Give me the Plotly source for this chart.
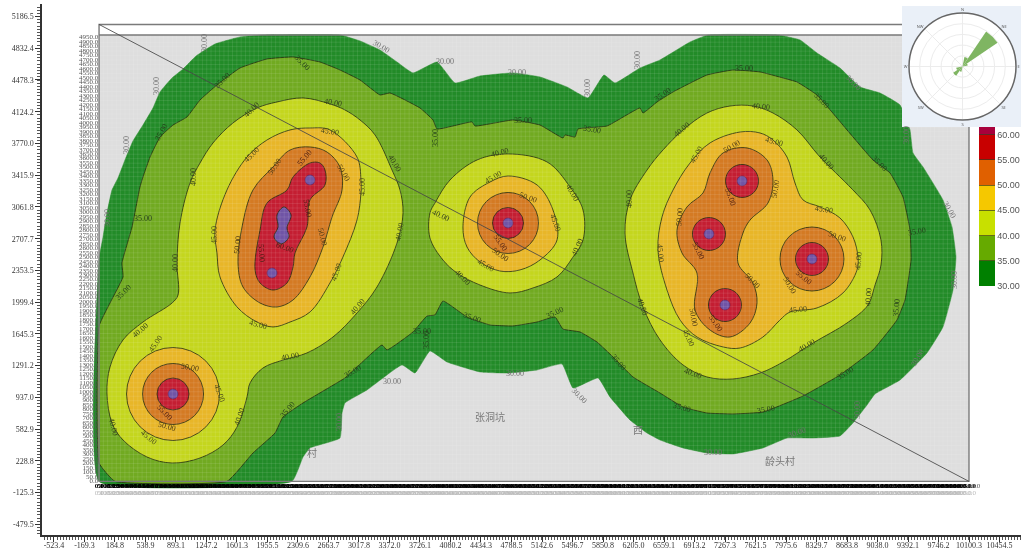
import plotly.graph_objects as go

X_TICKS = [-523.4,-169.3,184.8,538.9,893.1,1247.2,1601.3,1955.5,2309.6,2663.7,3017.8,3372.0,3726.1,4080.2,4434.3,4788.5,
           5142.6,5496.7,5850.8,6205.0,6559.1,6913.2,7267.3,7621.5,7975.6,8329.7,8683.8,9038.0,9392.1,9746.2,10100.3,10454.5]
Y_TICKS = [5186.5,4832.4,4478.3,4124.2,3770.0,3415.9,3061.8,2707.7,2353.5,1999.4,1645.3,1291.2,937.0,582.9,228.8,-125.3,-479.5]
MAP_W, MAP_H, BOX_TOP = 10100, 4980, 5098

L30 = [(1903,4980),(1636,4958),(1346,4880),(1126,4746),(975,4601),(847,4501),(708,4345),(626,4166),(510,3976),(394,3798),(301,3586),(220,3385),(150,3251),(92,2995),(46,2727),(11,2548),(0,2470),(0,0),(2240,0),(2368,272),(2449,373),(2797,484),(2821,763),(2855,875),(3111,1020),(3517,1299),(3668,1209),(3842,1455),(4040,1332),(4423,1221),(4748,1209),(5085,1243),(5375,1310),(5503,1042),(5793,1154),(5932,942),(6164,685),(6362,540),(6513,462),(6780,373),(7058,317),(7360,306),(7708,373),(7987,484),(8289,484),(8602,507),(8753,652),(8916,852),(9009,975),(9299,1131),(9612,1433),(9798,1723),(9914,2135),(9949,2504),(9903,2838),(9798,3140),(9566,3508),(9450,3664),(9415,3921),(9299,4200),(9067,4333),(8835,4400),(8602,4612),(8335,4780),(8138,4925),(7883,4980),(7070,4980),(6861,4902),(6513,4702),(6280,4612),(5990,4445),(5862,4534),(5677,4278),(5433,4400),(5119,4512),(4806,4557),(4423,4523),(4133,4445),(3924,4679),(3645,4557),(3459,4679),(3262,4813),(3030,4914),(2797,4980)]
L35 = [(2252,4735),(1950,4713),(1636,4612),(1369,4423),(1172,4255),(1021,4066),(859,3976),(708,3842),(592,3619),(510,3396),(475,3285),(383,2838),(266,2437),(278,2281),(127,1990),(0,1734),(0,205),(185,0),(1485,0),(1787,317),(2043,540),(2136,719),(2368,875),(2681,1053),(2855,1154),(2995,1276),(3285,1522),(3343,1466),(3645,1667),(3807,1845),(3900,1857),(3993,2013),(4272,1834),(4539,1745),(4806,1734),(5085,1778),(5294,1834),(5386,1700),(5584,1667),(5781,1555),(5967,1388),(6199,1165),(6513,986),(6780,830),(7058,763),(7360,752),(7708,774),(8173,953),(8602,1187),(8985,1466),(9264,1801),(9357,2024),(9427,2470),(9415,2805),(9334,3173),(9183,3441),(8985,3586),(8684,3921),(8335,4311),(8103,4456),(7941,4501),(7674,4568),(7360,4590),(7058,4534),(6664,4345),(6478,4233),(6315,4110),(6280,4166),(5897,3965),(5561,3932),(5526,3842),(5410,3865),(5386,3831),(5119,3976),(4806,4032),(4365,3965),(4330,4010),(3924,3932),(3877,4032),(3726,4166),(3378,4333),(3262,4311),(3030,4478),(2797,4590),(2565,4679)]
L40_LEFT = [(2368,4278),(2066,4233),(1834,4166),(1555,3999),(1323,3776),(1172,3552),(1056,3329),(940,2883),(905,2437),(917,2080),(847,1990),(510,1778),(278,1578),(127,1276),(92,986),(150,652),(278,462),(557,272),(847,205),(1172,261),(1439,406),(1602,607),(1718,942),(1753,1098),(1903,1265),(2136,1354),(2414,1433),(2716,1611),(2995,1879),(3227,2169),(3459,2660),(3529,2995),(3494,3251),(3401,3474),(3204,3865),(3030,4032),(2855,4144),(2681,4211)]
L40_MID = [(4748,3653),(5201,3564),(5468,3285),(5619,3028),(5619,2693),(5503,2504),(5317,2281),(5038,2158),(4771,2102),(4423,2191),(4156,2325),(3993,2470),(3842,2716),(3842,2995),(3900,3106),(4075,3363),(4388,3586)]
L40_RIGHT = [(7325,4188),(7592,4188),(7824,4110),(8103,3921),(8370,3619),(8753,3251),(8951,3028),(9078,2693),(9078,2414),(9009,2191),(8927,1968),(8684,1767),(8289,1544),(7941,1332),(7674,1209),(7360,1143),(7058,1165),(6780,1299),(6513,1578),(6315,1946),(6199,2325),(6106,2771),(6164,3140),(6362,3474),(6547,3697),(6780,3921),(7058,4110)]
L45_LEFT = [(2449,3943),(2217,3921),(1950,3809),(1718,3619),(1485,3251),(1346,2805),(1369,2548),(1404,2281),(1602,1946),(1834,1778),(2020,1723),(2217,1778),(2449,1890),(2681,2214),(2832,2504),(2995,2916),(3041,3218),(3041,3363),(2995,3619),(2681,3921)]
L45_MID = [(4748,3407),(5085,3307),(5270,3028),(5317,2693),(5119,2470),(4887,2359),(4655,2347),(4423,2448),(4272,2615),(4225,2838),(4307,3173),(4539,3340)]
L45_RIGHT = [(7441,3898),(7674,3887),(7824,3809),(7987,3619),(8080,3329),(8173,3140),(8370,3062),(8602,2939),(8753,2727),(8811,2504),(8800,2359),(8637,2102),(8335,1935),(8022,1890),(7906,1801),(7708,1611),(7441,1488),(7244,1500),(6942,1611),(6745,1801),(6594,2135),(6489,2582),(6536,2950),(6664,3251),(6861,3552),(7093,3776)]
L50_LEFT = [(2449,3731),(2217,3697),(2020,3508),(1787,3251),(1660,2838),(1613,2437),(1671,2169),(1869,1990),(2066,1946),(2252,2024),(2449,2281),(2600,2615),(2705,2950),(2821,3251),(2797,3508),(2646,3675)]
L50_RIGHT = [(7523,3720),(7755,3586),(7824,3363),(7766,3106),(7558,2916),(7476,2771),(7418,2437),(7592,2214),(7639,1990),(7558,1767),(7325,1611),(7093,1689),(6919,1912),(6942,2325),(6768,2548),(6710,2805),(6826,3062),(7012,3218),(7093,3441),(7244,3664)]
L55_LEFT = [(2449,3552),(2252,3396),(2182,3251),(1950,3106),(1869,2805),(1811,2359),(1869,2214),(2020,2135),(2182,2214),(2252,2392),(2275,2548),(2414,2838),(2449,3140),(2623,3307),(2623,3474),(2565,3552)]
L60_LEFT = [(2147,3062),(2229,2972),(2182,2827),(2205,2727),(2112,2649),(2031,2727),(2078,2838),(2066,2972)]

SRC_X = [2449,2008,4748,859,7465,7081,7267,8277]
SRC_Y = [3363,2325,2883,975,3352,2760,1968,2481]
ROUND45 = [(859,975,93)]
ROUND50 = [(4748,2883,61),(859,975,61),(8277,2481,64)]
ROUND55 = [(4748,2883,31),(859,975,32),(7465,3352,33),(7081,2760,33),(7267,1968,33),(8277,2481,33)]

LABELS30 = [(1230,4891,-90),(673,4412,-90),(313,3753,-90),(104,2939,-90),(3401,1120,0),(4829,1209,0),(5572,953,45),(7128,317,0),(8103,540,-20),(8811,797,-90),(9508,1377,-60),(9938,2247,-90),(9868,3028,60),(9380,3865,-90),(8753,4445,45),(6257,4702,-90),(4016,4690,0),(4852,4557,0),(5677,4389,-90),(3273,4847,30),(2797,663,-90)]
LABELS35 = [(2356,4668,45),(1427,4478,-45),(719,3898,-60),(510,2928,0),(278,2113,-45),(2194,797,-50),(2948,1221,-30),(4922,4021,0),(5723,3921,10),(3900,3831,-90),(6547,4311,-35),(4330,1823,20),(5294,1879,-25),(3749,1667,0),(3807,1578,-90),(6037,1332,50),(7488,4612,0),(8393,4255,45),(9067,3552,45),(9496,2783,-10),(6768,830,15),(7743,797,-10),(8660,1209,-30),(9264,1935,-85)]
LABELS40 = [(1776,4144,-45),(2716,4222,10),(1091,3396,-90),(893,2437,-90),(475,1689,-40),(162,607,75),(1636,719,-70),(2217,1399,-10),(3006,1946,-50),(3494,2783,-80),(3436,3552,60),(4655,3664,-15),(5491,3218,60),(3970,2972,25),(6164,3151,-90),(4225,2280,45),(5549,2615,-65),(6304,1946,70),(6768,3921,-40),(7685,4177,5),(8440,3564,50),(6896,1209,20),(8219,1511,-30),(8927,2057,-85)]
LABELS45 = [(661,1533,-55),(1404,986,70),(580,495,40),(1346,2749,-90),(1845,1745,15),(2751,2336,-70),(3064,3285,-90),(1776,3642,-45),(2681,3909,10),(4574,3396,-30),(5294,2883,70),(4492,2414,30),(6942,3642,-60),(7836,3787,15),(8417,3039,10),(8823,2459,-85),(8115,1923,-5),(6838,1600,65),(6524,2548,85)]
LABELS50 = [(2043,3508,-55),(2832,3441,60),(1613,2638,-85),(2588,2727,75),(1056,1276,10),(789,618,15),(4980,3162,20),(4655,2526,35),(7348,3731,-30),(7848,3262,-80),(6745,2950,-85),(7581,2236,45),(6907,1834,80),(8567,2727,20),(8022,2191,60)]
LABELS55 = [(2391,3608,-50),(2426,3050,80),(1892,2548,85),(766,774,45),(4655,2660,55),(7325,3173,70),(6954,2571,65),(7163,1767,55),(8184,2280,40)]
LABELS60 = [(2159,2615,20)]
PLACES = [("张洞坑",4539,719),("西",6257,575),("龄头村",7906,228),("村",2472,328)]

ROSE_THETA = [22.5,45,67.5,202.5,225,247.5]
ROSE_R = [0.18,0.79,0.10,0.10,0.21,0.12]
ROSE_DIRS = ["N","NE","E","SE","S","SW","W","NW"]
SCALE_TICKS = [30,35,40,45,50,55,60]
SCALE_COLORS = ["#008000","#66aa00","#c8e000","#f5c800","#e06000","#c80000","#a8003c"]

FILL = {30:"rgb(34,139,40)",35:"rgb(113,170,33)",40:"rgb(196,214,30)",45:"rgb(232,182,40)",
        50:"rgb(212,122,35)",55:"rgb(196,30,50)",60:"rgb(112,84,165)"}
EDGE = "rgba(35,45,15,0.9)"
SERIF = "Liberation Serif"

fig = go.Figure()

def rect(x0, y0, x1, y1, color):
    fig.add_trace(go.Scatter(x=[x0,x1,x1,x0,x0], y=[y0,y0,y1,y1,y0], mode="lines", fill="toself",
                             fillcolor=color, line=dict(width=0), hoverinfo="skip"))

def poly(points, level, edge=EDGE, w=0.9, smooth=1.0):
    xs = [p[0] for p in points] + [points[0][0]]
    ys = [p[1] for p in points] + [points[0][1]]
    fig.add_trace(go.Scatter(x=xs, y=ys, mode="lines", fill="toself", fillcolor=FILL[level],
                             line=dict(color=edge, width=w, shape="spline", smoothing=smooth), hoverinfo="skip"))

def rounds(items, level):
    fig.add_trace(go.Scatter(x=[i[0] for i in items], y=[i[1] for i in items], mode="markers",
                             marker=dict(size=[i[2] for i in items], color=FILL[level], opacity=1,
                                         line=dict(color=EDGE, width=0.9)), hoverinfo="skip"))

rect(0, 0, MAP_W, MAP_H, "#dedede")
poly(L30, 30, edge=FILL[30], w=0.5, smooth=0.35)
poly(L35, 35, smooth=0.35)
for p in (L40_LEFT, L40_MID, L40_RIGHT):
    poly(p, 40)
for p in (L45_LEFT, L45_MID, L45_RIGHT):
    poly(p, 45)
rounds(ROUND45, 45)
for p in (L50_LEFT, L50_RIGHT):
    poly(p, 50)
rounds(ROUND50, 50)
poly(L55_LEFT, 55)
rounds(ROUND55, 55)
poly(L60_LEFT, 60)
fig.add_trace(go.Scatter(x=SRC_X, y=SRC_Y, mode="markers",
                         marker=dict(size=10, color=FILL[60], line=dict(color="rgba(90,30,90,0.8)", width=0.7)),
                         hoverinfo="skip"))

# fine mesh of the map
gx, gy = [], []
for v in range(0, MAP_W + 1, 50):
    gx += [v, v, None]; gy += [0, MAP_H, None]
for v in range(0, MAP_H + 1, 50):
    gx += [0, MAP_W, None]; gy += [v, v, None]
fig.add_trace(go.Scatter(x=gx, y=gy, mode="lines", line=dict(color="rgba(255,255,255,0.16)", width=0.6), hoverinfo="skip"))

# frame and diagonal
fig.add_trace(go.Scatter(x=[0,0,MAP_W,MAP_W,0,0,MAP_W], y=[BOX_TOP,0,0,MAP_H,MAP_H,BOX_TOP,BOX_TOP], mode="lines",
                         line=dict(color="#7a7a7a", width=1.4), hoverinfo="skip"))
fig.add_trace(go.Scatter(x=[0,MAP_W], y=[BOX_TOP,0], mode="lines", line=dict(color="rgba(70,70,70,0.85)", width=1), hoverinfo="skip"))

# tiny inner scale labels
ly = list(range(0, 4951, 50))
fig.add_trace(go.Scatter(x=[-10]*len(ly), y=ly, mode="text", text=[f"{v:.1f}" for v in ly], textposition="middle left",
                         textfont=dict(size=7, family=SERIF, color="#555"), hoverinfo="skip"))
lx = list(range(0, 10051, 50))
fig.add_trace(go.Scatter(x=lx, y=[-130]*len(lx), mode="text", text=[f"{v:.1f}" for v in lx], textposition="middle center",
                         textfont=dict(size=7, family=SERIF, color="#bbb"), hoverinfo="skip"))
fig.add_trace(go.Scatter(x=lx, y=[-50]*len(lx), mode="text", text=[f"{v:.1f}" for v in lx], textposition="middle center",
                         textfont=dict(size=7, family=SERIF, color="#000", weight="bold"), hoverinfo="skip"))
fig.add_trace(go.Scatter(x=[10130], y=[-50], mode="text", text=["0.0"], textposition="middle right",
                         textfont=dict(size=7, family=SERIF, color="#555"), hoverinfo="skip"))

# inset panel behind the rose
rect(9322, 3954, 10704, 5304, "#eaf0f8")

# scale bar
stops = []
edges = SCALE_TICKS + [61.5]
for i, c in enumerate(SCALE_COLORS):
    stops += [[(edges[i]-30)/31.5, c], [(edges[i+1]-30)/31.5, c]]
fig.add_trace(go.Scatter(x=[None], y=[None], mode="markers",
    marker=dict(color=[30], cmin=30, cmax=61.5, colorscale=stops, showscale=True,
                colorbar=dict(x=(979-42)/979, xanchor="left", xpad=0, y=(535-127)/531, yanchor="top", ypad=0,
                              len=159, lenmode="pixels", thickness=16, outlinewidth=0,
                              tickvals=SCALE_TICKS, tickformat=".2f", ticks="inside", ticklen=16, tickwidth=1,
                              tickcolor="rgba(60,60,30,0.7)",
                              tickfont=dict(family="Liberation Sans", size=9, color="#555")))))

# wind rose
fig.add_trace(go.Barpolar(theta=ROSE_THETA, r=ROSE_R, width=[22]*len(ROSE_R), subplot="polar",
                          marker=dict(color="#7fb562", line=dict(width=0)), hoverinfo="skip"))

def labels(items, text, color):
    for x, y, a in items:
        fig.add_annotation(x=x, y=y, text=text, textangle=a, showarrow=False, xref="x", yref="y",
                           font=dict(family=SERIF, size=8, color=color))

labels(LABELS30, "30.00", "#6f6f6f")
labels(LABELS35, "35.00", "#25401c")
labels(LABELS40, "40.00", "#33401c")
labels(LABELS45, "45.00", "#4a4a1c")
labels(LABELS50, "50.00", "#4f3a15")
labels(LABELS55, "55.00", "#4f2015")
labels(LABELS60, "60.00", "#4f2015")
for t, x, y in PLACES:
    fig.add_annotation(x=x, y=y, text=t, showarrow=False, xref="x", yref="y",
                       font=dict(family="Noto Sans CJK SC", size=10, color="#777"))

axis_font = dict(family=SERIF, size=8, color="#333")
fig.update_layout(
    width=1021, height=551, showlegend=False, paper_bgcolor="white", plot_bgcolor="white",
    margin=dict(l=42, r=0, t=4, b=16, autoexpand=False),
    xaxis=dict(range=[-662.4,10703.8], tickvals=X_TICKS, ticktext=[f"{v:.1f}" for v in X_TICKS], tickangle=0,
               showgrid=False, zeroline=False, showline=True, linecolor="#333", linewidth=1.5,
               ticks="outside", ticklen=5, tickcolor="#333", tickfont=axis_font, ticklabelstandoff=-3,
               minor=dict(ticks="outside", ticklen=3, tickcolor="#555", tick0=-523.4, dtick=35.41, showgrid=False)),
    yaxis=dict(range=[-598,5326], tickvals=Y_TICKS, ticktext=[f"{v:.1f}" for v in Y_TICKS],
               showgrid=False, zeroline=False, showline=True, linecolor="#333", linewidth=1.5,
               ticks="outside", ticklen=5, tickcolor="#333", tickfont=axis_font,
               minor=dict(ticks="outside", ticklen=3, tickcolor="#555", tick0=-479.5, dtick=35.41, showgrid=False)),
    polar=dict(domain=dict(x=[(909-42)/979,(1016-42)/979], y=[(535-120)/531,(535-13)/531]), bgcolor="white",
               radialaxis=dict(range=[0,1], tickvals=[0.2,0.4,0.6,0.8,1], showticklabels=False, ticks="",
                               gridcolor="#ececec", showline=False, angle=90),
               angularaxis=dict(direction="clockwise", rotation=90, tickvals=[0,45,90,135,180,225,270,315],
                                ticktext=ROSE_DIRS, tickfont=dict(size=4, color="#555"), ticks="",
                                gridcolor="#ececec", linecolor="#666", linewidth=1.5)),
)

fig.write_html("out.html", config={"displayModeBar": False},
               post_script="document.body.style.margin='0';document.body.style.overflow='hidden';"
                           "document.querySelectorAll('.main-svg').forEach(function(s){s.style.willChange='transform';});")
